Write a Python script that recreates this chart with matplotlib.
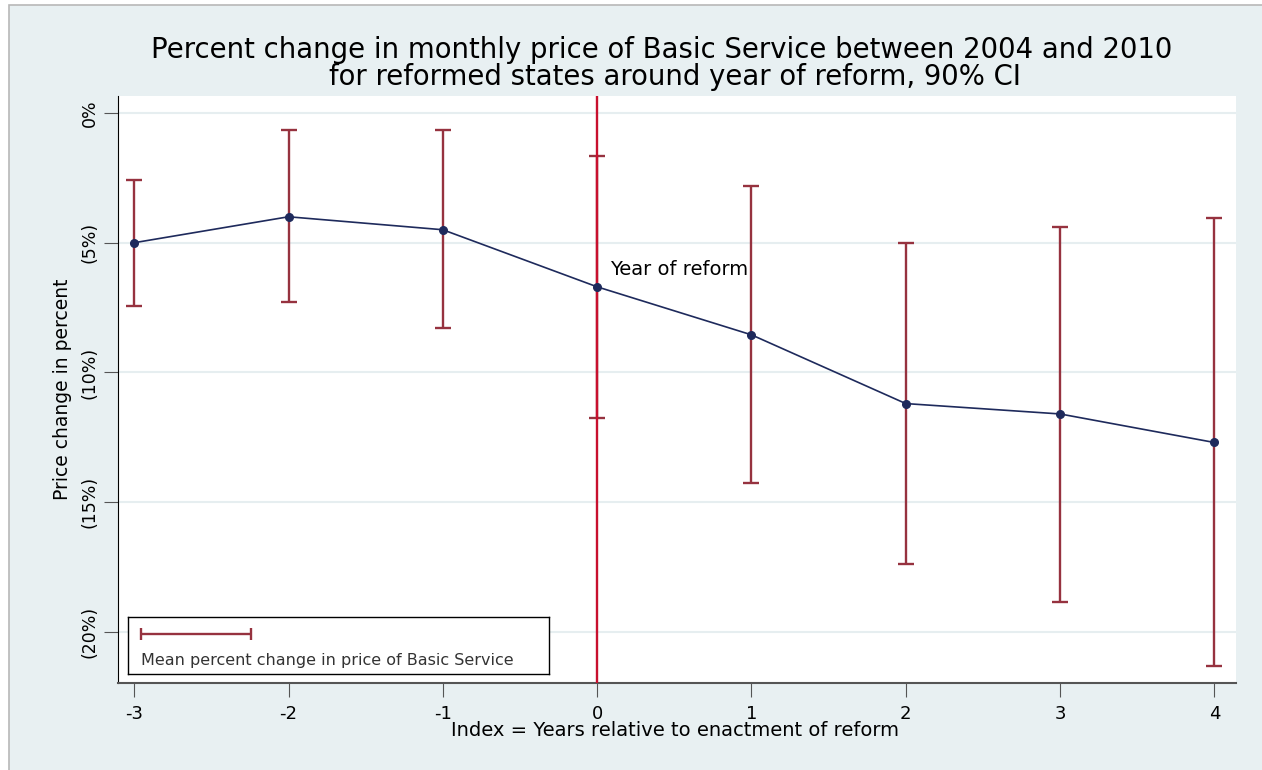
import matplotlib.pyplot as plt
from matplotlib.patches import Rectangle
from matplotlib.ticker import FuncFormatter
import numpy as np

# data (percent change)
years = [-3, -2, -1, 0, 1, 2, 3, 4]
mean_change = [-5.0, -4.0, -4.5, -6.7, -8.55, -11.2, -11.6, -12.7]
ci_upper = [-2.57, -0.65, -0.65, -1.66, -2.81, -5.0, -4.39, -4.05]
ci_lower = [-7.44, -7.29, -8.29, -11.76, -14.26, -17.39, -18.85, -21.32]
y_ticks = [0, -5, -10, -15, -20]
x_ticks = years

plt.rcParams['font.family'] = ['DejaVu Sans']

bg = '#E8F0F2'
grid_col = '#E6EEF0'
navy = '#1E2A5C'
maroon = '#96323F'
red = '#C8102E'

fig = plt.figure(figsize=(12.62, 7.70), dpi=100)
fig.patch.set_facecolor('white')
# outer panel: border only on left/top, runs off the right and bottom edges
fig.patches.append(Rectangle((9/1262, -0.05), 1.1, 1.05 - 5/770, transform=fig.transFigure,
                             facecolor=bg, edgecolor='#B8B8B8', linewidth=1.2, zorder=-10))

ax = fig.add_axes([118/1262, 87/770, (1236-118)/1262, (683-96)/770])
ax.set_facecolor('white')

ax.set_xlim(-3.105, 4.14)
ax.set_ylim(-21.97, 0.655)

for t in y_ticks:
    ax.axhline(t, color=grid_col, lw=1.5, zorder=0)

# confidence intervals
yerr = [np.array(mean_change) - np.array(ci_lower), np.array(ci_upper) - np.array(mean_change)]
ax.errorbar(years, mean_change, yerr=yerr, fmt='none', ecolor=maroon, elinewidth=1.7,
            capsize=6, capthick=1.7, zorder=3)

# vertical line at reform year (drawn over the CI bar)
ax.axvline(0, color=red, lw=1.7, zorder=3.5)

ax.plot(years, mean_change, color=navy, lw=1.2, marker='o', markersize=5.5, zorder=4)

ax.text(0.085, -6.05, 'Year of reform', fontsize=14, ha='left', va='center', zorder=5)

ax.spines['top'].set_visible(False)
ax.spines['right'].set_visible(False)
ax.spines['left'].set_color('black')
ax.spines['bottom'].set_color('#555555')
ax.spines['bottom'].set_linewidth(1.5)

ax.set_xticks(x_ticks)
ax.set_xticklabels([str(x) for x in x_ticks], fontsize=13)
ax.set_yticks(y_ticks)
ax.yaxis.set_major_formatter(FuncFormatter(lambda v, p: '0%' if v == 0 else '(%d%%)' % abs(v)))
ax.tick_params(axis='y', labelsize=12.5, length=10, color='#555555', labelrotation=90, pad=4)
ax.tick_params(axis='x', length=10, color='#555555', pad=6)
for lab in ax.get_yticklabels():
    lab.set_va('center')

ax.set_ylabel('Price change in percent', fontsize=13.5, labelpad=6)
fig.text(675/1262, 1 - 731/770, 'Index = Years relative to enactment of reform',
         fontsize=14, ha='center', va='center')

fig.text(662/1262, 1 - 50/770,
         'Percent change in monthly price of Basic Service between 2004 and 2010',
         ha='center', va='center', fontsize=19.8)
fig.text(675/1262, 1 - 77/770,
         'for reformed states around year of reform, 90% CI',
         ha='center', va='center', fontsize=19.8)

# legend box
lax = fig.add_axes([128/1262, (770-674)/770, (549-128)/1262, (674-617)/770])
lax.set_xlim(0, 1)
lax.set_ylim(0, 1)
lax.set_xticks([])
lax.set_yticks([])
lax.set_facecolor('white')
for s in lax.spines.values():
    s.set_color('black')
    s.set_linewidth(1.0)
lax.errorbar([(196 - 128) / 421], [0.7], xerr=[[55 / 421], [55 / 421]], fmt='none',
             ecolor=maroon, elinewidth=1.7, capsize=4.5, capthick=1.7)
lax.text(13 / 421, 0.24, 'Mean percent change in price of Basic Service', fontsize=11.5,
         ha='left', va='center', color='#333333')

fig.savefig('out.png', dpi=100, facecolor=fig.get_facecolor())
